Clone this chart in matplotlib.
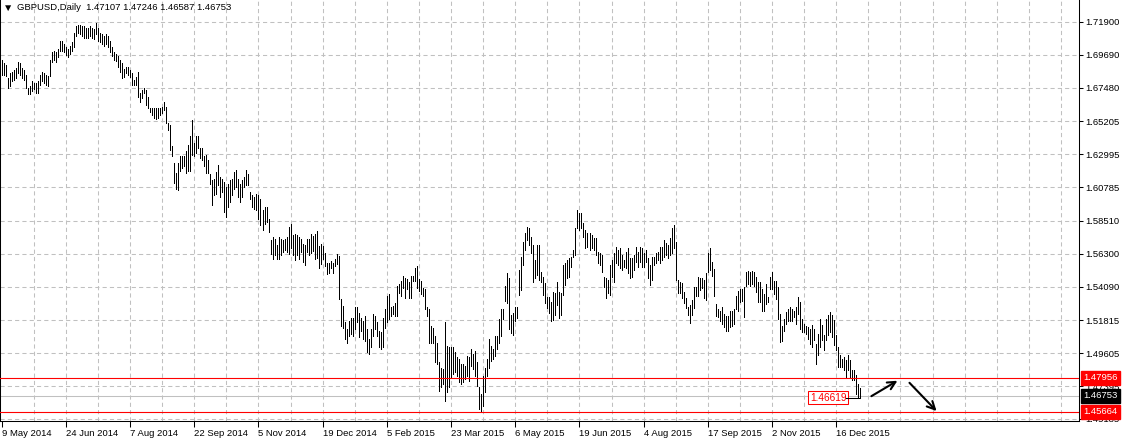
import numpy as np
import matplotlib.pyplot as plt

# daily GBPUSD bars (high / low of each bar)
highs = [
    1.6933, 1.6911, 1.6900, 1.6813, 1.6846, 1.6856, 1.6867, 1.6878, 1.6922, 1.6911,
    1.6878, 1.6867, 1.6835, 1.6747, 1.6758, 1.6791, 1.6780, 1.6780, 1.6791, 1.6835,
    1.6856, 1.6846, 1.6835, 1.6824, 1.6933, 1.6987, 1.6998, 1.6987, 1.7009, 1.7064,
    1.7064, 1.7042, 1.7020, 1.7009, 1.7031, 1.7053, 1.7118, 1.7162, 1.7173, 1.7173,
    1.7162, 1.7162, 1.7151, 1.7151, 1.7162, 1.7151, 1.7140, 1.7183, 1.7151, 1.7118,
    1.7107, 1.7096, 1.7107, 1.7096, 1.7060, 1.7020, 1.6990, 1.6975, 1.6960, 1.6933,
    1.6911, 1.6877, 1.6888, 1.6888, 1.6866, 1.6844, 1.6799, 1.6822, 1.6855, 1.6710,
    1.6732, 1.6744, 1.6732, 1.6688, 1.6610, 1.6610, 1.6610, 1.6610, 1.6610, 1.6614,
    1.6621, 1.6654, 1.6621, 1.6509, 1.6498, 1.6353, 1.6242, 1.6175, 1.6242, 1.6286,
    1.6286, 1.6286, 1.6320, 1.6364, 1.6420, 1.6532, 1.6376, 1.6420, 1.6420, 1.6342,
    1.6342, 1.6286, 1.6298, 1.6264, 1.6170, 1.6125, 1.6136, 1.6181, 1.6226, 1.6147,
    1.6136, 1.6114, 1.6080, 1.6103, 1.6125, 1.6136, 1.6181, 1.6192, 1.6136, 1.6103,
    1.6125, 1.6147, 1.6192, 1.6170, 1.6046, 1.6024, 1.6013, 1.6035, 1.6024, 1.6002,
    1.5923, 1.5946, 1.5946, 1.5867, 1.5722, 1.5744, 1.5733, 1.5688, 1.5744, 1.5733,
    1.5722, 1.5733, 1.5744, 1.5811, 1.5834, 1.5755, 1.5766, 1.5755, 1.5744, 1.5733,
    1.5699, 1.5688, 1.5733, 1.5733, 1.5761, 1.5750, 1.5761, 1.5784, 1.5683, 1.5694,
    1.5683, 1.5638, 1.5571, 1.5571, 1.5582, 1.5571, 1.5593, 1.5627, 1.5616, 1.5325,
    1.5280, 1.5168, 1.5123, 1.5179, 1.5201, 1.5201, 1.5269, 1.5269, 1.5235, 1.5201,
    1.5179, 1.5213, 1.5123, 1.5056, 1.5123, 1.5224, 1.5213, 1.5168, 1.5112, 1.5101,
    1.5201, 1.5257, 1.5347, 1.5358, 1.5269, 1.5280, 1.5302, 1.5414, 1.5425, 1.5448,
    1.5481, 1.5470, 1.5459, 1.5437, 1.5481, 1.5481, 1.5537, 1.5549, 1.5459, 1.5448,
    1.5403, 1.5392, 1.5269, 1.5257, 1.5145, 1.5134, 1.5078, 1.5033, 1.4899, 1.4865,
    1.4854, 1.5168, 1.5011, 1.5000, 1.5000, 1.5000, 1.4966, 1.4933, 1.4921, 1.4888,
    1.4888, 1.4877, 1.4944, 1.4933, 1.4989, 1.4955, 1.4978, 1.4899, 1.4731, 1.4686,
    1.4809, 1.4865, 1.4921, 1.5056, 1.5011, 1.4989, 1.5078, 1.5078, 1.5190, 1.5257,
    1.5257, 1.5414, 1.5504, 1.5470, 1.5219, 1.5231, 1.5275, 1.5275, 1.5522, 1.5611,
    1.5712, 1.5768, 1.5813, 1.5802, 1.5746, 1.5690, 1.5589, 1.5690, 1.5690, 1.5511,
    1.5477, 1.5432, 1.5342, 1.5342, 1.5309, 1.5376, 1.5365, 1.5443, 1.5376, 1.5365,
    1.5555, 1.5566, 1.5589, 1.5600, 1.5611, 1.5656, 1.5802, 1.5925, 1.5903, 1.5903,
    1.5835, 1.5791, 1.5768, 1.5768, 1.5757, 1.5735, 1.5735, 1.5645, 1.5634, 1.5622,
    1.5477, 1.5466, 1.5455, 1.5555, 1.5589, 1.5634, 1.5679, 1.5656, 1.5667, 1.5622,
    1.5589, 1.5645, 1.5667, 1.5600, 1.5600, 1.5622, 1.5679, 1.5645, 1.5679, 1.5667,
    1.5634, 1.5656, 1.5600, 1.5555, 1.5611, 1.5611, 1.5634, 1.5645, 1.5679, 1.5679,
    1.5723, 1.5701, 1.5690, 1.5735, 1.5802, 1.5824, 1.5712, 1.5455, 1.5443, 1.5432,
    1.5376, 1.5331, 1.5275, 1.5287, 1.5320, 1.5410, 1.5410, 1.5477, 1.5466, 1.5466,
    1.5455, 1.5499, 1.5634, 1.5667, 1.5572, 1.5527, 1.5292, 1.5258, 1.5247, 1.5269,
    1.5225, 1.5213, 1.5213, 1.5247, 1.5247, 1.5258, 1.5348, 1.5381, 1.5393, 1.5393,
    1.5404, 1.5505, 1.5516, 1.5505, 1.5516, 1.5505, 1.5471, 1.5437, 1.5437, 1.5393,
    1.5359, 1.5426, 1.5337, 1.5471, 1.5505, 1.5449, 1.5449, 1.5404, 1.5225, 1.5146,
    1.5191, 1.5236, 1.5258, 1.5269, 1.5258, 1.5247, 1.5269, 1.5337, 1.5303, 1.5191,
    1.5157, 1.5146, 1.5135, 1.5124, 1.5148, 1.5125, 1.5025, 1.5092, 1.5193, 1.5148,
    1.5081, 1.5193, 1.5215, 1.5238, 1.5215, 1.5182, 1.5081, 1.5002, 1.4946, 1.4924,
    1.4935, 1.4913, 1.4946, 1.4913, 1.4846, 1.4846, 1.4812, 1.4756, 1.47246,
]
lows = [
    1.6835, 1.6835, 1.6824, 1.6747, 1.6758, 1.6791, 1.6802, 1.6813, 1.6846, 1.6835,
    1.6813, 1.6802, 1.6747, 1.6704, 1.6704, 1.6726, 1.6737, 1.6715, 1.6715, 1.6769,
    1.6791, 1.6780, 1.6769, 1.6758, 1.6824, 1.6922, 1.6933, 1.6922, 1.6955, 1.6998,
    1.6998, 1.6987, 1.6965, 1.6955, 1.6976, 1.6998, 1.7020, 1.7096, 1.7118, 1.7107,
    1.7096, 1.7085, 1.7085, 1.7085, 1.7096, 1.7085, 1.7074, 1.7107, 1.7064, 1.7053,
    1.7042, 1.7031, 1.7042, 1.7020, 1.6990, 1.6960, 1.6935, 1.6926, 1.6888, 1.6855,
    1.6810, 1.6822, 1.6844, 1.6833, 1.6822, 1.6766, 1.6766, 1.6766, 1.6688, 1.6654,
    1.6677, 1.6710, 1.6632, 1.6610, 1.6587, 1.6565, 1.6543, 1.6538, 1.6543, 1.6565,
    1.6576, 1.6599, 1.6509, 1.6465, 1.6331, 1.6286, 1.6108, 1.6063, 1.6057, 1.6186,
    1.6208, 1.6219, 1.6175, 1.6186, 1.6186, 1.6298, 1.6286, 1.6309, 1.6342, 1.6275,
    1.6264, 1.6219, 1.6175, 1.6175, 1.6103, 1.5957, 1.6024, 1.6035, 1.6091, 1.6013,
    1.6046, 1.5912, 1.5878, 1.5946, 1.5979, 1.6024, 1.6069, 1.6080, 1.6013, 1.5979,
    1.6013, 1.6080, 1.6091, 1.6091, 1.6002, 1.5946, 1.5934, 1.5923, 1.5867, 1.5822,
    1.5789, 1.5834, 1.5845, 1.5778, 1.5632, 1.5598, 1.5621, 1.5598, 1.5598, 1.5621,
    1.5643, 1.5654, 1.5643, 1.5632, 1.5666, 1.5621, 1.5587, 1.5621, 1.5598, 1.5643,
    1.5576, 1.5554, 1.5643, 1.5621, 1.5638, 1.5649, 1.5593, 1.5605, 1.5537, 1.5560,
    1.5593, 1.5549, 1.5493, 1.5504, 1.5537, 1.5504, 1.5549, 1.5560, 1.5325, 1.5145,
    1.5134, 1.5056, 1.5033, 1.5078, 1.5089, 1.5078, 1.5123, 1.5168, 1.5067, 1.5112,
    1.5056, 1.5045, 1.4966, 1.4955, 1.5000, 1.5078, 1.5123, 1.5078, 1.5000, 1.4989,
    1.5000, 1.5134, 1.5168, 1.5190, 1.5213, 1.5224, 1.5213, 1.5213, 1.5369, 1.5347,
    1.5403, 1.5336, 1.5392, 1.5336, 1.5336, 1.5448, 1.5448, 1.5403, 1.5381, 1.5358,
    1.5347, 1.5257, 1.5213, 1.5033, 1.5033, 1.5033, 1.4899, 1.4888, 1.4709, 1.4731,
    1.4753, 1.4641, 1.4697, 1.4731, 1.4798, 1.4821, 1.4832, 1.4809, 1.4765, 1.4753,
    1.4765, 1.4787, 1.4809, 1.4776, 1.4877, 1.4854, 1.4809, 1.4742, 1.4585, 1.4574,
    1.4608, 1.4697, 1.4809, 1.4865, 1.4910, 1.4921, 1.4944, 1.4989, 1.5033, 1.5078,
    1.5190, 1.5313, 1.5302, 1.5123, 1.5096, 1.5085, 1.5175, 1.5197, 1.5354, 1.5387,
    1.5555, 1.5656, 1.5723, 1.5690, 1.5634, 1.5443, 1.5466, 1.5488, 1.5455, 1.5443,
    1.5354, 1.5298, 1.5264, 1.5231, 1.5175, 1.5186, 1.5219, 1.5287, 1.5197, 1.5219,
    1.5354, 1.5421, 1.5466, 1.5477, 1.5544, 1.5611, 1.5622, 1.5802, 1.5791, 1.5802,
    1.5746, 1.5667, 1.5678, 1.5656, 1.5667, 1.5656, 1.5622, 1.5566, 1.5555, 1.5511,
    1.5410, 1.5331, 1.5365, 1.5354, 1.5477, 1.5443, 1.5567, 1.5555, 1.5533, 1.5522,
    1.5544, 1.5533, 1.5499, 1.5466, 1.5477, 1.5522, 1.5578, 1.5544, 1.5578, 1.5544,
    1.5544, 1.5578, 1.5466, 1.5421, 1.5455, 1.5555, 1.5567, 1.5589, 1.5567, 1.5589,
    1.5611, 1.5622, 1.5600, 1.5622, 1.5634, 1.5667, 1.5455, 1.5365, 1.5365, 1.5331,
    1.5298, 1.5264, 1.5219, 1.5163, 1.5219, 1.5264, 1.5343, 1.5343, 1.5387, 1.5398,
    1.5331, 1.5320, 1.5511, 1.5522, 1.5482, 1.5348, 1.5213, 1.5202, 1.5180, 1.5157,
    1.5135, 1.5113, 1.5113, 1.5135, 1.5146, 1.5157, 1.5258, 1.5247, 1.5303, 1.5314,
    1.5202, 1.5415, 1.5426, 1.5415, 1.5426, 1.5415, 1.5370, 1.5303, 1.5303, 1.5247,
    1.5247, 1.5292, 1.5303, 1.5393, 1.5393, 1.5359, 1.5325, 1.5191, 1.5034, 1.5045,
    1.5113, 1.5157, 1.5180, 1.5180, 1.5180, 1.5202, 1.5157, 1.5225, 1.5124, 1.5101,
    1.5101, 1.5090, 1.5057, 1.5023, 1.5002, 1.5047, 1.4890, 1.4946, 1.5002, 1.5047,
    1.4980, 1.5047, 1.5081, 1.5103, 1.5069, 1.5014, 1.4980, 1.4868, 1.4868, 1.4868,
    1.4846, 1.4801, 1.4846, 1.4801, 1.4778, 1.4778, 1.4689, 1.4666, 1.46587,
]

symbol = 'GBPUSD,Daily'
last_ohlc = [1.47107, 1.47246, 1.46587, 1.46753]
price_ticks = [1.71900, 1.69690, 1.67480, 1.65205, 1.62995, 1.60785, 1.58510,
               1.56300, 1.54090, 1.51815, 1.49605, 1.47395, 1.45185]
date_labels = ['9 May 2014', '24 Jun 2014', '7 Aug 2014', '22 Sep 2014', '5 Nov 2014',
               '19 Dec 2014', '5 Feb 2015', '23 Mar 2015', '6 May 2015', '19 Jun 2015',
               '4 Aug 2015', '17 Sep 2015', '2 Nov 2015', '16 Dec 2015']
levels = [1.47956, 1.45664]
marked_price = 1.46619

n = len(highs)
x = np.arange(n)
last = n - 1

plt.rcParams['font.family'] = 'Liberation Sans'
fs = 6.8
fig = plt.figure(figsize=(11.22, 4.43), dpi=100)
ax = fig.add_axes([0, 22 / 443, 1079 / 1122, 421 / 443])

ax.set_xlim(-0.85, 537.0)
ax.set_ylim(1.4505, 1.7338)

# grid
grid_kw = dict(color='#c0c0c0', linewidth=0.75, linestyle=(0, (4, 3)), zorder=0)
for b in range(16, 537, 16):
    ax.axvline(b, **grid_kw)
for p in price_ticks:
    ax.axhline(p, **grid_kw)

# bars
ax.vlines(x, lows, highs, colors='black', linewidth=0.5, antialiased=False, zorder=3)

# bid line and the two horizontal levels
ax.axhline(last_ohlc[3], color='#c0c0c0', linewidth=0.75, zorder=1)
for lv in levels:
    ax.axhline(lv, color='red', linewidth=0.8, zorder=4)

# price label on the chart
ax.text(last - 7, marked_price, f'{marked_price:.5f}', ha='right', va='center',
        color='red', fontsize=fs + 0.5, zorder=5,
        bbox=dict(boxstyle='square,pad=0.15', fc='white', ec='red', lw=0.75))
ax.plot([last - 7, last], [marked_price, marked_price], color='black', lw=0.75, zorder=5)

# arrows
arrow_kw = dict(arrowstyle='->', color='black', lw=1.5, mutation_scale=14,
                shrinkA=0, shrinkB=0)
ax.annotate('', xy=(last + 18.5, 1.4776), xytext=(last + 5.5, 1.4672), arrowprops=arrow_kw)
ax.annotate('', xy=(last + 38, 1.4572), xytext=(last + 24.5, 1.4762), arrowprops=arrow_kw)

# axes
ax.yaxis.tick_right()
ax.set_yticks(price_ticks)
ax.set_yticklabels([f'{p:.5f}' for p in price_ticks])
ax.tick_params(axis='y', labelsize=fs, length=3, width=0.75, pad=1.5, colors='black')

ax.set_xticks(range(0, 32 * len(date_labels), 32))
ax.set_xticklabels(date_labels, ha='left')
ax.tick_params(axis='x', labelsize=fs, length=4, width=0.75, pad=2)

for side in ['left', 'right', 'bottom']:
    ax.spines[side].set_linewidth(0.75)
ax.spines['top'].set_visible(False)

# right-side highlighted price labels
box_trans = ax.get_yaxis_transform()
for p, bg in [(levels[0], 'red'), (last_ohlc[3], 'black'), (levels[1], 'red')]:
    ax.text(1.0042, p, f'{p:.5f}', transform=box_trans, ha='left', va='center',
            color='white', fontsize=fs, clip_on=False, zorder=6,
            bbox=dict(boxstyle='square,pad=0.25', fc=bg, ec=bg))

# header
fig.text(3 / 1122, 1 - 8 / 443, '\u25bc', fontsize=7.5, va='center', ha='left')
fig.text(17 / 1122, 1 - 8 / 443,
         symbol + '  ' + ' '.join(f'{v:.5f}' for v in last_ohlc),
         fontsize=fs, va='center', ha='left')

fig.savefig('out.png', dpi=100)
